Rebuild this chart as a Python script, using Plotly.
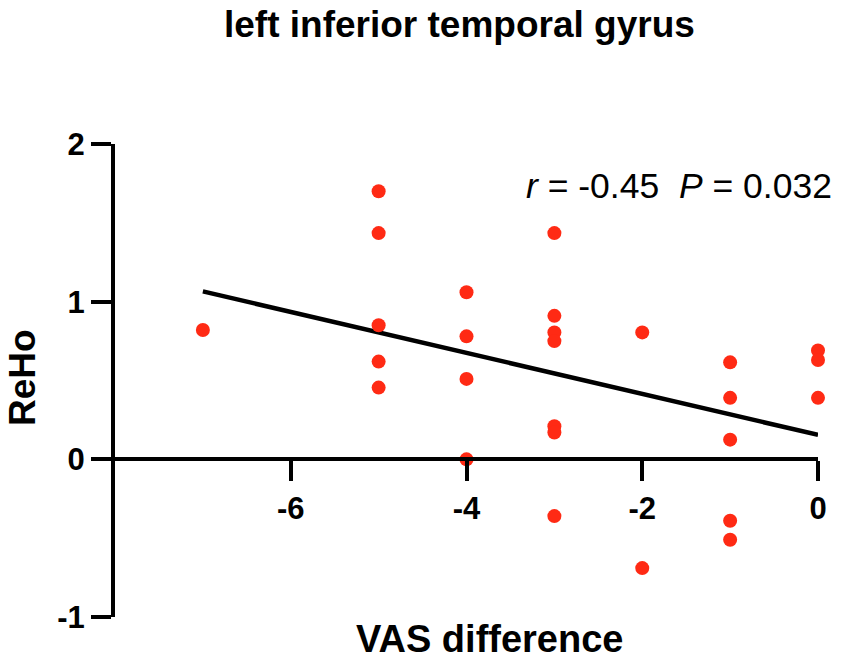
import plotly.graph_objects as go

# Data
vas_difference = [-7,
                  -5, -5, -5, -5, -5,
                  -4, -4, -4, -4,
                  -3, -3, -3, -3, -3, -3, -3,
                  -2, -2,
                  -1, -1, -1, -1, -1,
                  0, 0, 0]
reho = [0.82,
        1.70, 1.435, 0.85, 0.62, 0.455,
        1.06, 0.78, 0.51, 0.0,
        1.435, 0.91, 0.805, 0.75, 0.21, 0.17, -0.36,
        0.805, -0.69,
        0.615, 0.39, 0.125, -0.39, -0.51,
        0.69, 0.63, 0.39]

fit_x = [-7, 0]
fit_y = [1.065, 0.155]

x_ticks = [-6, -4, -2, 0]
y_ticks = [-1, 0, 1, 2]

title_text = "left inferior temporal gyrus"
x_title = "VAS difference"
y_title = "ReHo"
stat_text = "<i>r</i> = -0.45\u00a0\u00a0<i>P</i> = 0.032"

FONT = "Liberation Sans, Arial, Helvetica, sans-serif"

fig = go.Figure()
fig.add_trace(go.Scatter(
    x=fit_x, y=fit_y, mode="lines",
    line=dict(color="black", width=4.5),
    showlegend=False, hoverinfo="skip"))
fig.add_trace(go.Scatter(
    x=vas_difference, y=reho, mode="markers",
    marker=dict(color="#ff2a14", size=14, line=dict(width=0)),
    showlegend=False, cliponaxis=False))

W, H = 851, 666
L, R, T, B = 115, 33, 144, 49
pw, ph = W - L - R, H - T - B

def px_x(px):
    return (px - L) / pw

def px_y(py):
    return (H - B - py) / ph

tick_font = dict(family=FONT, size=31, color="black", weight="bold")

fig.update_layout(
    width=W, height=H,
    margin=dict(l=L, r=R, t=T, b=B, pad=0),
    paper_bgcolor="white", plot_bgcolor="white",
    font=dict(family=FONT, color="black"),
    xaxis=dict(
        range=[-8, 0], tickvals=x_ticks, ticktext=[str(v) for v in x_ticks],
        anchor="free", position=1/3,
        showline=True, linecolor="black", linewidth=4,
        ticks="outside", ticklen=20, tickwidth=4, tickcolor="black",
        showgrid=False, zeroline=False,
        tickfont=tick_font,
    ),
    yaxis=dict(
        range=[-1, 2], tickvals=y_ticks, ticktext=[str(v) for v in y_ticks],
        showline=True, linecolor="black", linewidth=4,
        ticks="outside", ticklen=20, tickwidth=4, tickcolor="black",
        showgrid=False, zeroline=False,
        tickfont=tick_font,
    ),
    annotations=[
        dict(text="<b>" + title_text + "</b>", xref="paper", yref="paper",
             x=px_x(459), y=px_y(24), xanchor="center", yanchor="middle",
             showarrow=False, font=dict(family=FONT, size=37, color="black")),
        dict(text="<b>" + x_title + "</b>", xref="paper", yref="paper",
             x=px_x(490), y=px_y(639), xanchor="center", yanchor="middle",
             showarrow=False, font=dict(family=FONT, size=38, color="black")),
        dict(text="<b>" + y_title + "</b>", xref="paper", yref="paper",
             x=px_x(22), y=px_y(378), xanchor="center", yanchor="middle",
             textangle=-90,
             showarrow=False, font=dict(family=FONT, size=37, color="black")),
        dict(text=stat_text, xref="paper", yref="paper",
             x=px_x(524), y=px_y(186), xanchor="left", yanchor="middle",
             showarrow=False, font=dict(family=FONT, size=35.5, color="black")),
    ],
)

fig.write_html(
    "out.html",
    config={"displayModeBar": False},
    post_script="document.body.style.margin='0';document.body.style.overflow='hidden';",
)
